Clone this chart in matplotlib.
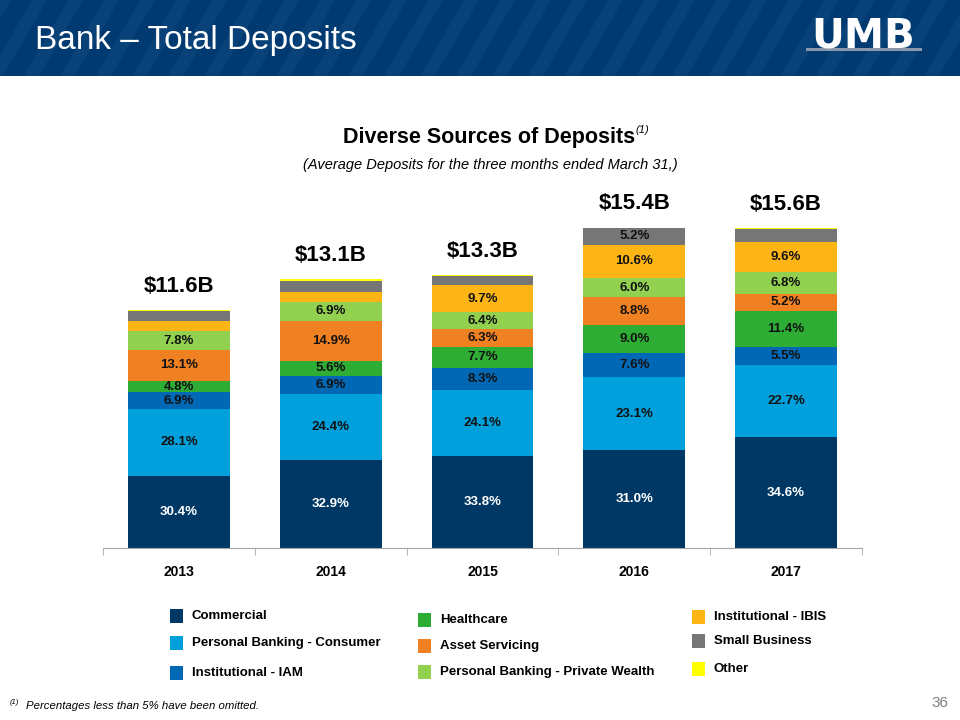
import numpy as np
import matplotlib
matplotlib.use("Agg")
import matplotlib.pyplot as plt
import matplotlib.patches as mpatches

plt.rcParams.update({
    "font.family": ["Liberation Sans", "DejaVu Sans"],
    "font.size": 10,
})

# ── Data ─────────────────────────────────────────────────────────────────────
years = ["2013", "2014", "2015", "2016", "2017"]
totals = [11.6, 13.1, 13.3, 15.4, 15.6]   # $B
series = ["Commercial", "Personal Banking - Consumer", "Institutional - IAM",
          "Healthcare", "Asset Servicing", "Personal Banking - Private Wealth",
          "Institutional - IBIS", "Small Business", "Other"]
commercial = [30.4, 32.9, 33.8, 31.0, 34.6]
consumer   = [28.1, 24.4, 24.1, 23.1, 22.7]
iam        = [6.9, 6.9, 8.3, 7.6, 5.5]
healthcare = [4.8, 5.6, 7.7, 9.0, 11.4]
asset_svc  = [13.1, 14.9, 6.3, 8.8, 5.2]
private_w  = [7.8, 6.9, 6.4, 6.0, 6.8]
ibis       = [4.2, 3.9, 9.7, 10.6, 9.6]
small_biz  = [4.5, 4.1, 3.5, 5.2, 4.0]
other      = [0.2, 0.4, 0.2, 0.2, 0.2]

colors = ["#003865", "#00A0DC", "#0068B4", "#2EAD34", "#F08122",
          "#92D050", "#FDB515", "#767676", "#FFFF00"]
text_colors = ["white", "#111111", "#111111", "#111111", "#111111",
               "#111111", "#111111", "#111111", "#111111"]

# ── Figure ───────────────────────────────────────────────────────────────────
fig = plt.figure(figsize=(9.6, 7.2), dpi=100)

# header band with diagonal stripes
hdr_y0 = 1 - 76 / 720
fig.patches.append(mpatches.Rectangle((0, hdr_y0), 1, 1 - hdr_y0, transform=fig.transFigure,
                                      facecolor="#003A70", edgecolor="none", zorder=0))
for x0 in np.arange(-120, 1000, 36):
    px = [x0 + 44, x0 + 44 + 15, x0 + 15, x0]
    py = [0, 0, 76, 76]
    poly = mpatches.Polygon([(a / 960, 1 - b / 720) for a, b in zip(px, py)],
                            closed=True, transform=fig.transFigure,
                            facecolor="#1A5288", edgecolor="none", alpha=0.35, zorder=0)
    fig.patches.append(poly)
fig.text(35 / 960, 1 - 40 / 720, "Bank – Total Deposits", color="white",
         fontsize=24, va="center", ha="left")
fig.text(863 / 960, 1 - 37 / 720, "UMB", color="white", fontsize=29,
         fontweight="heavy", va="center", ha="center", family="DejaVu Sans")
fig.patches.append(mpatches.Rectangle((806 / 960, 1 - 51 / 720), 116 / 960, 3 / 720,
                                      transform=fig.transFigure, facecolor="#8A97A8",
                                      edgecolor="none"))

# chart titles
fig.text(489 / 960, 1 - 137 / 720, "Diverse Sources of Deposits", fontsize=15.5,
         fontweight="bold", ha="center", va="center")
fig.text(635 / 960, 1 - 130 / 720, "(1)", fontsize=8, style="italic",
         ha="left", va="center")
fig.text(490 / 960, 1 - 165 / 720,
         "(Average Deposits for the three months ended March 31,)",
         fontsize=10.5, style="italic", ha="center", va="center")

# ── Bars ─────────────────────────────────────────────────────────────────────
ax = fig.add_axes([103 / 960, 1 - 548 / 720, 759 / 960, 328 / 720])
data = [commercial, consumer, iam, healthcare, asset_svc, private_w, ibis, small_biz, other]
x = np.arange(len(years))
tot = np.array(totals)
bottom = np.zeros(len(years))
for vals, col, tcol in zip(data, colors, text_colors):
    h = tot * np.array(vals) / 100
    ax.bar(x, h, bottom=bottom, width=0.67, color=col, edgecolor="none")
    for xi, v, b, hh in zip(x, vals, bottom, h):
        if v >= 4.75:
            ax.text(xi, b + hh / 2, f"{v:.1f}%", ha="center", va="center",
                    fontsize=9.5, fontweight="bold", color=tcol)
    bottom += h

for xi, t, b in zip(x, totals, bottom):
    ax.text(xi, b + 1.15, f"${t}B", ha="center", va="center",
            fontsize=16, fontweight="bold")

ax.set_xlim(-0.5, 4.5)
ax.set_ylim(0, 16)
ax.set_yticks([])
for s in ["top", "right", "left"]:
    ax.spines[s].set_visible(False)
ax.spines["bottom"].set_color("#A6A6A6")
ax.set_xticks(x)
ax.set_xticklabels(years, fontsize=10, fontweight="bold")
ax.tick_params(axis="x", which="major", length=0, pad=12)
ax.set_xticks(np.arange(-0.5, 5, 1), minor=True)
ax.tick_params(axis="x", which="minor", length=5, color="#A6A6A6")

# ── Legend ───────────────────────────────────────────────────────────────────
legend_pos = [(170, 616), (170, 643), (170, 673),
              (418, 620), (418, 646), (418, 672),
              (692, 617), (692, 641), (692, 669)]
for name, col, (lx, ly) in zip(series, colors, legend_pos):
    fig.patches.append(mpatches.Rectangle((lx / 960, 1 - (ly + 7) / 720), 13 / 960, 14 / 720,
                                          transform=fig.transFigure, facecolor=col,
                                          edgecolor="none"))
    fig.text((lx + 22) / 960, 1 - ly / 720, name, fontsize=9.5, fontweight="bold",
             ha="left", va="center")

# footnote and page number
fig.text(10 / 960, 1 - 703 / 720, "(1)", fontsize=5.5, style="italic", ha="left", va="center")
fig.text(26 / 960, 1 - 706 / 720, "Percentages less than 5% have been omitted.",
         fontsize=8.2, style="italic", ha="left", va="center")
fig.text(948 / 960, 1 - 703 / 720, "36", fontsize=11, color="#7F7F7F",
         ha="right", va="center")

fig.savefig("out.png", dpi=100)
